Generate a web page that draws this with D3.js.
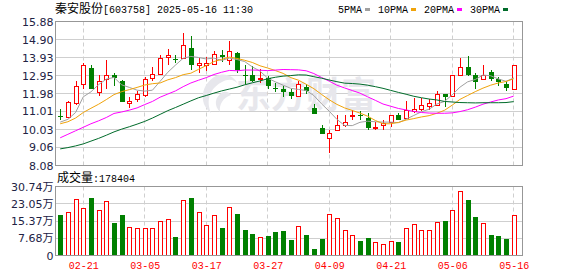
<!DOCTYPE html>
<html>
<head>
<meta charset="utf-8">
<script src="https://cdnjs.cloudflare.com/ajax/libs/d3/7.8.5/d3.min.js"></script>
<style>
body { margin: 0; background: #fff; }
</style>
</head>
<body>
<div id="chart"></div>
<script>
// trading days shown on the chart
var dates = ["02-18","02-19","02-20","02-21","02-24","02-25","02-26","02-27","02-28","03-03",
    "03-04","03-05","03-06","03-07","03-10","03-11","03-12","03-13","03-14","03-17",
    "03-18","03-19","03-20","03-21","03-24","03-25","03-26","03-27","03-28","03-31",
    "04-01","04-02","04-03","04-07","04-08","04-09","04-10","04-11","04-14","04-15",
    "04-16","04-17","04-18","04-21","04-22","04-23","04-24","04-25","04-28","04-29",
    "04-30","05-06","05-07","05-08","05-09","05-12","05-13","05-14","05-15","05-16"];

var open = [10.78,10.73,11.45,12.51,13.37,12.05,12.78,12.96,12.68,11.49,
    11.69,11.91,12.83,13.05,13.95,13.86,13.91,14.46,13.55,13.55,
    13.59,14.04,13.81,14.18,12.99,12.96,12.74,12.81,12.29,12.20,
    12.05,11.82,12.32,11.18,10.12,9.58,10.01,10.30,10.74,10.79,
    10.66,10.10,10.25,10.43,10.83,10.66,11.02,11.15,11.33,11.38,
    11.96,11.87,12.99,13.40,12.99,12.74,13.17,12.78,12.51,12.24];
var high = [11.15,11.60,12.68,13.64,13.53,12.96,13.77,13.10,12.70,11.78,
    12.14,12.86,13.44,14.08,14.40,14.08,15.27,15.07,13.91,13.98,
    14.27,14.35,14.81,14.22,13.50,13.46,13.31,12.92,12.56,12.36,
    12.24,12.68,12.51,11.42,10.28,9.98,10.83,10.84,11.10,11.01,
    10.93,10.46,10.56,10.83,10.90,11.55,11.75,11.73,11.69,12.14,
    11.98,12.97,13.89,14.00,13.08,13.50,13.23,12.86,12.68,13.52];
var low = [10.55,10.70,11.38,12.24,12.22,11.83,12.24,12.41,11.50,11.18,
    11.51,11.78,12.68,12.96,13.50,13.64,13.86,13.26,13.10,13.19,
    13.50,13.68,13.54,13.08,12.51,12.59,12.56,12.24,12.05,11.78,
    11.69,11.80,11.96,10.87,9.79,8.75,10.00,10.16,10.52,10.52,
    9.98,10.03,10.03,10.16,10.52,10.65,10.94,11.01,11.11,11.33,
    11.24,11.78,12.99,12.95,12.20,12.73,12.68,12.38,12.14,12.23];
var close = [10.71,11.51,12.36,13.53,12.24,12.68,12.99,12.83,11.51,11.55,
    11.93,12.74,13.05,13.91,14.04,13.82,14.63,13.54,13.62,13.62,
    14.13,13.95,14.26,13.23,12.96,12.68,12.81,12.38,12.24,12.05,
    11.82,12.51,12.09,10.88,9.80,9.83,10.30,10.46,10.79,10.74,
    10.12,10.16,10.37,10.79,10.57,11.06,11.15,11.38,11.48,11.96,
    11.78,12.96,13.40,12.96,12.59,12.99,12.74,12.59,12.27,13.50];

// volume, in 万 (10k lots)
var volume = [18.08,19.30,25.32,21.10,25.77,20.20,24.27,14.47,18.08,12.66,
    12.20,12.20,12.20,15.23,16.27,8.27,24.86,25.77,19.30,13.56,
    17.93,12.36,21.54,18.53,11.30,9.49,8.14,8.59,10.40,10.85,
    6.78,12.96,9.04,2.71,7.23,18.38,16.58,11.15,9.34,6.33,
    7.69,6.19,5.29,6.64,5.88,12.20,13.86,11.15,11.15,14.77,
    15.37,20.34,28.93,24.56,17.18,14.32,9.04,8.59,7.23,17.8404];

var ma5 = [10.43,10.58,10.95,11.80,12.07,12.46,12.76,12.85,12.45,12.31,
    12.16,12.11,12.16,12.64,13.13,13.52,13.89,13.99,13.93,13.85,
    13.90,13.77,13.90,13.82,13.71,13.42,13.19,12.81,12.61,12.43,
    12.26,12.20,12.14,11.87,11.42,11.02,10.58,10.25,10.24,10.42,
    10.48,10.45,10.43,10.43,10.40,10.59,10.79,10.99,11.13,11.41,
    11.55,11.91,12.32,12.61,12.74,12.98,12.94,12.77,12.64,12.82];
var ma10 = [10.34,10.45,10.65,10.95,11.18,11.40,11.65,11.92,12.08,12.19,
    12.31,12.44,12.51,12.55,12.72,12.84,13.00,13.08,13.29,13.49,
    13.71,13.83,13.95,13.88,13.78,13.66,13.48,13.36,13.22,13.07,
    12.84,12.70,12.48,12.24,11.93,11.64,11.39,11.20,11.06,10.92,
    10.75,10.52,10.34,10.34,10.41,10.54,10.62,10.71,10.78,10.91,
    11.07,11.35,11.66,11.87,12.08,12.27,12.43,12.55,12.63,12.78];
var ma20 = [9.58,9.77,9.96,10.15,10.34,10.50,10.68,10.90,10.98,11.08,
    11.20,11.38,11.55,11.78,11.95,12.12,12.35,12.55,12.70,12.84,
    13.01,13.13,13.23,13.21,13.25,13.25,13.24,13.22,13.25,13.28,
    13.27,13.26,13.21,13.06,12.85,12.65,12.43,12.28,12.14,12.00,
    11.80,11.61,11.41,11.29,11.17,11.09,11.01,10.95,10.92,10.91,
    10.91,10.93,11.00,11.10,11.24,11.40,11.52,11.63,11.70,11.84];
var ma30 = [8.98,9.05,9.14,9.25,9.40,9.55,9.72,9.90,10.05,10.18,
    10.32,10.47,10.65,10.85,11.05,11.22,11.40,11.58,11.75,11.87,
    12.00,12.12,12.22,12.32,12.45,12.56,12.66,12.78,12.86,12.92,
    12.95,12.99,12.98,12.89,12.81,12.71,12.62,12.54,12.52,12.49,
    12.43,12.35,12.26,12.15,12.04,11.94,11.83,11.75,11.68,11.63,
    11.55,11.52,11.49,11.48,11.47,11.48,11.48,11.48,11.49,11.54];

var priceTicks = [8.08, 9.06, 10.03, 11.01, 11.98, 12.95, 13.93, 14.90, 15.88];
var volumeTicks = [0, 7.68, 15.37, 23.05, 30.74];
var dateTicks = ["02-21","03-05","03-17","03-27","04-09","04-21","05-06","05-16"];

var maNames = ["5PMA", "10PMA", "20PMA", "30PMA"];
var maColors = ["#a0a0a0", "#f0a30a", "#ff00ff", "#006b2a"];

(function () {

    var width = 578, height = 276;
    var left = 55.5, right = 522.5;
    var priceTop = 21.5, priceBottom = 165.5;
    var volTop = 186.5, volBottom = 255.5;
    var up = "#ff0000", down = "#008000";

    // snap to pixel centre for 1px lines
    function px(v) { return Math.floor(v) + 0.5; }

    var svg = d3.select("#chart").append("svg")
        .attr("width", width)
        .attr("height", height)
        .style("display", "block");

    var x = d3.scalePoint().domain(dates).range([60.2, 513.7]);
    var y = d3.scaleLinear().domain([8.08, 15.88]).range([priceBottom, priceTop]);
    var yv = d3.scaleLinear().domain([0, 30.74]).range([volBottom, volTop]);

    var data = dates.map(function (d, i) {
        return {date: d, o: open[i], h: high[i], l: low[i], c: close[i], v: volume[i]};
    });

    //horizontal grid lines
    svg.append("g").selectAll("line")
        .data(priceTicks.slice(1, -1))
        .enter().append("line")
        .attr("x1", left).attr("x2", right)
        .attr("y1", function (d) { return px(y(d)); })
        .attr("y2", function (d) { return px(y(d)); })
        .attr("stroke", "#cfcfcf");

    svg.append("g").selectAll("line")
        .data(volumeTicks.slice(1, -1))
        .enter().append("line")
        .attr("x1", left).attr("x2", right)
        .attr("y1", function (d) { return px(yv(d)); })
        .attr("y2", function (d) { return px(yv(d)); })
        .attr("stroke", "#cfcfcf");

    //vertical dashed grid lines, both panels
    [[priceTop, priceBottom], [volTop, volBottom]].forEach(function (p) {
        svg.append("g").selectAll("line")
            .data(dateTicks)
            .enter().append("line")
            .attr("x1", function (d) { return px(x(d)); })
            .attr("x2", function (d) { return px(x(d)); })
            .attr("y1", p[0]).attr("y2", p[1])
            .attr("stroke", "#cfcfcf")
            .attr("stroke-dasharray", "4,3");
    });

    //watermark: logo swoosh + name
    svg.append("path")
        .attr("d", "M216,76 C201,84 198,103 211,113 C206,101 209,89 222,82 C229,78 235,80 238,84 C234,76 225,72 216,76 Z " +
                   "M223,92 C214,97 214,106 220,112 C219,104 223,98 231,95 C229,92 226,91 223,92 Z")
        .attr("fill", "#e7e7ec");

    svg.append("text")
        .attr("x", 236)
        .attr("y", 108)
        .attr("textLength", 140)
        .attr("lengthAdjust", "spacingAndGlyphs")
        .style("font-family", "'Noto Sans CJK SC'")
        .style("font-size", "36px")
        .style("font-weight", 700)
        .style("fill", "#e7e7ec")
        .text("东方财富");

    //candles
    var candles = svg.append("g").selectAll("g")
        .data(data)
        .enter().append("g");

    candles.each(function (d) {
        var g = d3.select(this);
        var cx = Math.round(x(d.date));
        var top = Math.round(y(Math.max(d.o, d.c)));
        var bot = Math.round(y(Math.min(d.o, d.c)));
        var hi = Math.round(y(d.h)), lo = Math.round(y(d.l));
        if (d.c >= d.o) {
            var h = Math.max(bot - top, 1);
            g.append("line").attr("x1", cx + 0.5).attr("x2", cx + 0.5)
                .attr("y1", hi).attr("y2", top + 0.5).attr("stroke", up);
            g.append("line").attr("x1", cx + 0.5).attr("x2", cx + 0.5)
                .attr("y1", top + h + 0.5).attr("y2", Math.max(lo, top + h + 0.5)).attr("stroke", up);
            g.append("rect")
                .attr("x", cx - 1.5).attr("y", top + 0.5)
                .attr("width", 4).attr("height", h)
                .attr("fill", "#fff").attr("stroke", up);
        } else {
            g.append("line").attr("x1", cx + 0.5).attr("x2", cx + 0.5)
                .attr("y1", hi).attr("y2", lo).attr("stroke", down);
            g.append("rect")
                .attr("x", cx - 2).attr("y", top)
                .attr("width", 5).attr("height", Math.max(bot - top, 1))
                .attr("fill", down);
        }
    });

    //moving average lines
    var line = d3.line()
        .x(function (d, i) { return x(dates[i]); })
        .y(function (d) { return y(d); });

    [ma5, ma10, ma20, ma30].forEach(function (s, k) {
        svg.append("path")
            .datum(s)
            .attr("d", line)
            .attr("fill", "none")
            .attr("stroke", maColors[k])
            .attr("stroke-width", 1);
    });

    //volume bars
    svg.append("g").selectAll("rect")
        .data(data)
        .enter().append("rect")
        .attr("x", function (d) {
            var cx = Math.round(x(d.date));
            return d.c >= d.o ? cx - 1.5 : cx - 2;
        })
        .attr("y", function (d) {
            return Math.round(yv(d.v)) + (d.c >= d.o ? 0.5 : 0);
        })
        .attr("width", function (d) { return d.c >= d.o ? 4 : 5; })
        .attr("height", function (d) { return 255 - Math.round(yv(d.v)); })
        .attr("fill", function (d) { return d.c >= d.o ? "#fff" : down; })
        .attr("stroke", function (d) { return d.c >= d.o ? up : "none"; });

    //frames
    svg.append("rect")
        .attr("x", left).attr("y", priceTop)
        .attr("width", right - left).attr("height", priceBottom - priceTop)
        .attr("fill", "none").attr("stroke", "#979797");
    svg.append("rect")
        .attr("x", left).attr("y", volTop)
        .attr("width", right - left).attr("height", volBottom - volTop)
        .attr("fill", "none").attr("stroke", "#979797");

    //axes
    var yAxis = d3.axisLeft(y)
        .tickValues(priceTicks)
        .tickSize(0)
        .tickPadding(2)
        .tickFormat(d3.format(".2f"));

    var vAxis = d3.axisLeft(yv)
        .tickValues(volumeTicks)
        .tickSize(0)
        .tickPadding(2)
        .tickFormat(function (d) { return d === 0 ? "0" : d3.format(".2f")(d) + "万"; });

    var xAxis = d3.axisBottom(x)
        .tickValues(dateTicks)
        .tickSize(0)
        .tickPadding(6);

    [yAxis, vAxis].forEach(function (a) {
        var g = svg.append("g")
            .attr("transform", "translate(" + left + ",0)")
            .call(a);
        g.select(".domain").remove();
        g.selectAll("text")
            .style("font-family", "'DejaVu Sans', 'Noto Sans CJK SC'")
            .style("font-size", "11px")
            .style("fill", "#222244");
    });

    var gx = svg.append("g")
        .attr("transform", "translate(0," + volBottom + ")")
        .call(xAxis);
    gx.select(".domain").remove();
    gx.selectAll("text")
        .style("font-family", "'Liberation Mono'")
        .style("font-size", "10px")
        .style("fill", "#ff0000");

    //title
    var title = svg.append("text")
        .attr("x", 55)
        .attr("y", 13)
        .style("fill", "#000");
    title.append("tspan")
        .style("font-family", "'Noto Sans CJK SC'")
        .style("font-size", "12px")
        .text("秦安股份");
    title.append("tspan")
        .style("font-family", "'Liberation Mono'")
        .style("font-size", "10px")
        .text("[603758] 2025-05-16 11:30");

    //volume caption: last bar, in lots
    var vt = svg.append("text")
        .attr("x", 57)
        .attr("y", 182)
        .style("fill", "#000");
    vt.append("tspan")
        .style("font-family", "'Noto Sans CJK SC'")
        .style("font-size", "12px")
        .text("成交量");
    vt.append("tspan")
        .style("font-family", "'Liberation Mono'")
        .style("font-size", "10px")
        .text(":" + Math.round(volume[volume.length - 1] * 10000));

    //legend
    var lx = 338;
    maNames.forEach(function (name, k) {
        svg.append("text")
            .attr("x", lx)
            .attr("y", 13)
            .style("font-family", "'Liberation Mono'")
            .style("font-size", "10px")
            .style("fill", "#000")
            .text(name);
        lx += name.length * 6 + 3;
        svg.append("rect")
            .attr("x", lx).attr("y", 8)
            .attr("width", 5).attr("height", 3)
            .attr("fill", maColors[k]);
        lx += 5 + 8;
    });

})();
</script>
</body>
</html>
